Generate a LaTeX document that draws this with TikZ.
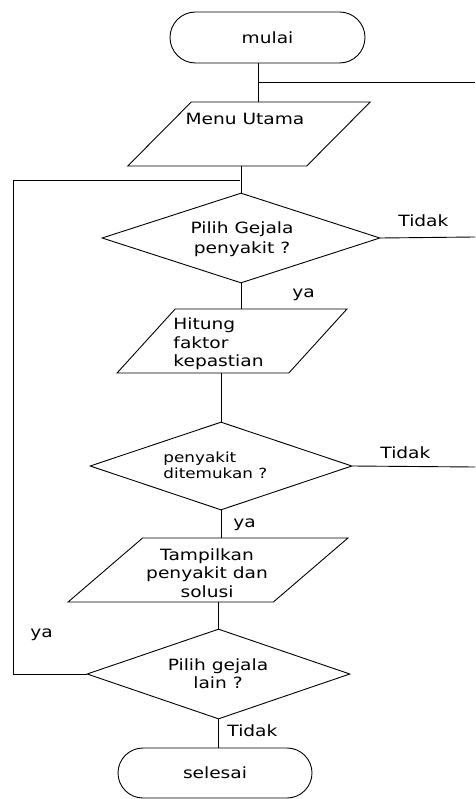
\documentclass[tikz,border=0pt]{standalone}
\usepackage{fontspec}
\setmainfont[FakeStretch=1.2]{DejaVu Sans}
\usetikzlibrary{shapes.geometric,shapes.misc}
\begin{document}
\begin{tikzpicture}[x=1pt,y=-1pt,line width=0.9pt,
  font=\fontsize{15.5}{18.5}\selectfont,
  term/.style={rounded rectangle,draw,minimum width=195pt,minimum height=51pt,inner sep=0pt},
  io/.style={trapezium,draw,trapezium stretches=true,inner sep=0pt,minimum height=64pt},
  dec/.style={diamond,draw,inner sep=0pt},
  txt/.style={inner sep=0pt,align=center},
  lbl/.style={anchor=base west,inner sep=0pt}]
\useasboundingbox (0,0) rectangle (475,799);
% shapes
\node[term] (mulai) at (267.5,37.5) {mulai};
\node[io,trapezium left angle=52,trapezium right angle=128,minimum width=243pt] (menu) at (249,134) {\phantom{M}};
\node[txt] (menutxt) at (245,119) {Menu Utama};
\node[dec,minimum width=278pt,minimum height=90pt] (d1) at (241,238) {\phantom{M}};
\node[txt,font=\fontsize{15.5}{20}\selectfont] (d1txt) at (242,239) {Pilih Gejala\\penyakit ?};
\node[io,trapezium left angle=54,trapezium right angle=126,minimum width=230pt] (p2) at (232,341) {\phantom{M}};
\node[txt,anchor=west,align=left] (p2txt) at (173,344) {Hitung\\faktor\\kepastian};
\node[dec,minimum width=262pt,minimum height=88pt] (d2) at (221,466) {\phantom{M}};
\node[txt,anchor=west,align=left,font=\fontsize{14}{16}\selectfont] (d2txt) at (163,465) {penyakit\\ditemukan ?};
\node[io,trapezium left angle=51,trapezium right angle=129,minimum width=280pt] (p3) at (208,570) {\phantom{M}};
\node[txt] (p3txt) at (207,573) {Tampilkan\\penyakit dan\\solusi};
\node[dec,minimum width=263pt,minimum height=90pt] (d3) at (218.5,674) {\phantom{M}};
\node[txt,font=\fontsize{15.5}{18}\selectfont] (d3txt) at (218,674) {Pilih gejala\\lain ?};
\node[term,minimum width=194pt,minimum height=50pt] (selesai) at (215,773) {selesai};
% labels
\node[lbl] (t1) at (398,227) {Tidak};
\node[lbl] (t2) at (380,458) {Tidak};
\node[lbl] (t3) at (227,736) {Tidak};
\node[lbl] (y1) at (292,297) {ya};
\node[lbl] (y2) at (233,527) {ya};
\node[lbl] (y3) at (30,637) {ya};
% junctions
\coordinate (j1) at (258,82);
\coordinate (r1) at (475,82);
\coordinate (j2) at (240,180);
\coordinate (l1) at (13,180);
\coordinate (r2) at (475,237);
\coordinate (r3) at (475,467);
% connectors
\draw (mulai.south -| j1) -- (menu.north -| j1);
\draw (j1) -- (r1);
\draw (menu.south -| d1.north) -- (d1.north);
\draw (d1.east) -- (r2);
\draw (d1.south) -- (p2.north -| d1.south);
\draw (p2.south -| d2.north) -- (d2.north);
\draw (d2.east) -- (r3);
\draw (d2.south) -- (p3.north -| d2.south);
\draw (p3.south -| d3.north) -- (d3.north);
\draw (d3.west) -| (l1) -- (j2);
\draw (d3.south) -- (selesai.north -| d3.south);
\end{tikzpicture}
\end{document}
